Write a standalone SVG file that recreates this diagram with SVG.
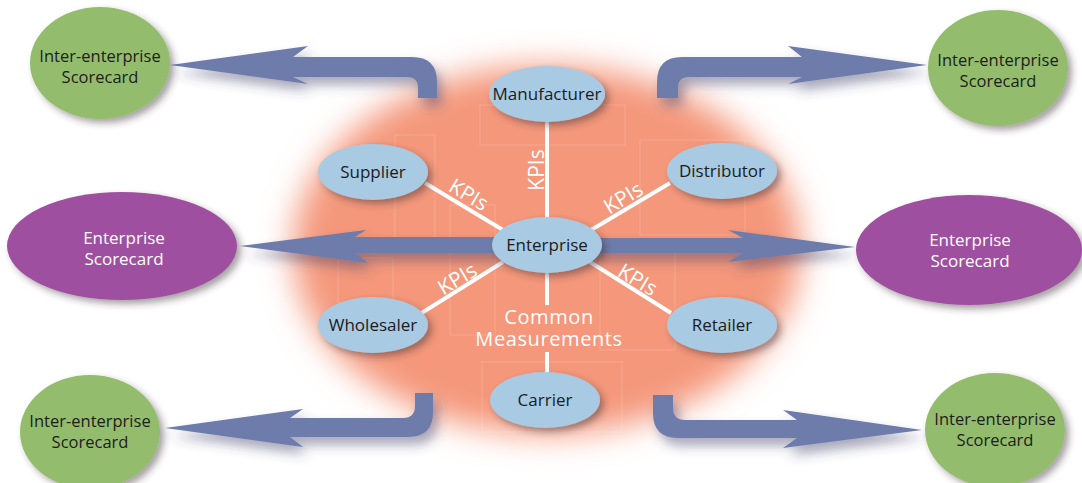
<svg xmlns="http://www.w3.org/2000/svg" width="1082" height="483" viewBox="0 0 1082 483">
<defs>
<filter id="blur" x="-30%" y="-30%" width="160%" height="160%"><feGaussianBlur stdDeviation="16"/></filter>
<filter id="sh" x="-20%" y="-30%" width="150%" height="170%"><feDropShadow dx="4" dy="4" stdDeviation="3.5" flood-color="#3a2a30" flood-opacity="0.45"/></filter>
<filter id="ash" x="-20%" y="-40%" width="140%" height="200%"><feDropShadow dx="5" dy="8" stdDeviation="6" flood-color="#40406a" flood-opacity="0.45"/></filter>
<style>
.blue{fill:#a9cae3}
.green{fill:#94bc6d}
.purple{fill:#9f509f}
.arrow{fill:#6d7cab}
.link{stroke:#ffffff;stroke-width:4;fill:none}
.deco{stroke:#ffffff;stroke-opacity:0.22;stroke-width:0.8;fill:none}
text{font-family:"Open Sans","Noto Sans","Liberation Sans",sans-serif;text-anchor:middle}
.nt{font-size:17px;fill:#1c1c1c}
.gt{font-size:16.5px;fill:#1c1c1c}
.wt{font-size:17px;fill:#ffffff}
.kpi{font-size:21px;fill:#ffffff}
.cm{font-size:20px;fill:#ffffff;letter-spacing:0.6px}
</style>
</defs>
<rect width="1082" height="483" fill="#ffffff"/>
<ellipse cx="547" cy="250" rx="254" ry="184" fill="#f4977a" filter="url(#blur)"/>
<g id="decor">
<rect x="480" y="105" width="145" height="40" class="deco"/>
<rect x="395" y="135" width="40" height="105" class="deco"/>
<rect x="640" y="140" width="105" height="95" class="deco"/>
<rect x="450" y="205" width="45" height="130" class="deco"/>
<rect x="600" y="240" width="75" height="110" class="deco"/>
<rect x="482" y="362" width="140" height="70" class="deco"/>
<rect x="338" y="258" width="55" height="45" class="deco"/>
</g>
<g id="connectors">
<line x1="547" y1="122" x2="547" y2="220" class="link"/>
<line x1="425" y1="183" x2="503" y2="230" class="link"/>
<line x1="670" y1="183" x2="591" y2="230" class="link"/>
<line x1="420" y1="314" x2="503" y2="262" class="link"/>
<line x1="671" y1="313" x2="590" y2="262" class="link"/>
<line x1="547" y1="270" x2="547" y2="305" class="link"/>
<line x1="547" y1="352" x2="547" y2="374" class="link"/>
<path id="arrow-tl" class="arrow" filter="url(#ash)" d="M 418,98 L 418,88 Q 418,77 407,77 L 293,77 L 308,84 L 170,65 L 308,46 L 293,57 L 412,57 Q 437,57 437,82 L 437,98 Z"/>
<path id="arrow-tr" class="arrow" filter="url(#ash)" d="M 657,98 L 657,82 Q 657,57 682,57 L 802,57 L 788,46 L 927,65 L 788,84 L 802,77 L 689,77 Q 678,77 678,88 L 678,98 Z"/>
<path id="arrow-ml" class="arrow" filter="url(#ash)" d="M 510,237 L 355,237 L 366,230 L 240,246 L 368,263 L 355,253 L 510,253 Z"/>
<path id="arrow-mr" class="arrow" filter="url(#ash)" d="M 585,238 L 743,238 L 728,230 L 855,247 L 728,262 L 743,253 L 585,253 Z"/>
<path id="arrow-bl" class="arrow" filter="url(#ash)" d="M 415,393 L 415,406 Q 415,418 403,418 L 290,418 L 303,409 L 165,428 L 303,447 L 290,437 L 408,437 Q 433,437 433,412 L 433,393 Z"/>
<path id="arrow-br" class="arrow" filter="url(#ash)" d="M 673,395 L 673,408 Q 673,420 685,420 L 797,420 L 783,410 L 922,430 L 783,448 L 797,438 L 678,438 Q 653,438 653,413 L 653,395 Z"/>
<text class="kpi" transform="translate(544,170) rotate(-90)">KPIs</text>
<text class="kpi" transform="translate(465,201) rotate(31)">KPIs</text>
<text class="kpi" transform="translate(627,204) rotate(-31)">KPIs</text>
<text class="kpi" transform="translate(461,285) rotate(-31)">KPIs</text>
<text class="kpi" transform="translate(634,286) rotate(31)">KPIs</text>
<text class="cm" x="549" y="324">Common</text>
<text class="cm" x="549" y="346">Measurements</text>
</g>
<g id="manufacturer"><ellipse class="blue" filter="url(#sh)" cx="547" cy="94" rx="58" ry="28"/><text class="nt" x="547" y="100">Manufacturer</text></g>
<g id="supplier"><ellipse class="blue" filter="url(#sh)" cx="373" cy="172" rx="55" ry="28"/><text class="nt" x="373" y="178">Supplier</text></g>
<g id="distributor"><ellipse class="blue" filter="url(#sh)" cx="722" cy="171" rx="55" ry="28"/><text class="nt" x="722" y="177">Distributor</text></g>
<g id="enterprise"><ellipse class="blue" filter="url(#sh)" cx="547" cy="245" rx="55" ry="28"/><text class="nt" x="547" y="251">Enterprise</text></g>
<g id="wholesaler"><ellipse class="blue" filter="url(#sh)" cx="373" cy="325" rx="55" ry="28"/><text class="nt" x="373" y="331">Wholesaler</text></g>
<g id="retailer"><ellipse class="blue" filter="url(#sh)" cx="722" cy="325" rx="55" ry="28"/><text class="nt" x="722" y="331">Retailer</text></g>
<g id="carrier"><ellipse class="blue" filter="url(#sh)" cx="545" cy="400" rx="55" ry="28"/><text class="nt" x="545" y="406">Carrier</text></g>
<g id="es-left"><ellipse class="purple" filter="url(#sh)" cx="122" cy="246" rx="115" ry="54"/><text class="wt" x="124" y="244">Enterprise</text><text class="wt" x="124" y="265">Scorecard</text></g>
<g id="es-right"><ellipse class="purple" filter="url(#sh)" cx="969" cy="250" rx="113" ry="55"/><text class="wt" x="970" y="246">Enterprise</text><text class="wt" x="970" y="267">Scorecard</text></g>
<g id="ie-tl"><ellipse class="green" filter="url(#sh)" cx="100" cy="63" rx="70" ry="56"/><text class="gt" x="100" y="62">Inter-enterprise</text><text class="gt" x="100" y="83">Scorecard</text></g>
<g id="ie-tr"><ellipse class="green" filter="url(#sh)" cx="998" cy="68" rx="70" ry="58"/><text class="gt" x="998" y="66">Inter-enterprise</text><text class="gt" x="998" y="87">Scorecard</text></g>
<g id="ie-bl"><ellipse class="green" filter="url(#sh)" cx="90" cy="432" rx="70" ry="57"/><text class="gt" x="90" y="427">Inter-enterprise</text><text class="gt" x="90" y="448">Scorecard</text></g>
<g id="ie-br"><ellipse class="green" filter="url(#sh)" cx="995" cy="430" rx="70" ry="57"/><text class="gt" x="995" y="425">Inter-enterprise</text><text class="gt" x="995" y="446">Scorecard</text></g>
</svg>
